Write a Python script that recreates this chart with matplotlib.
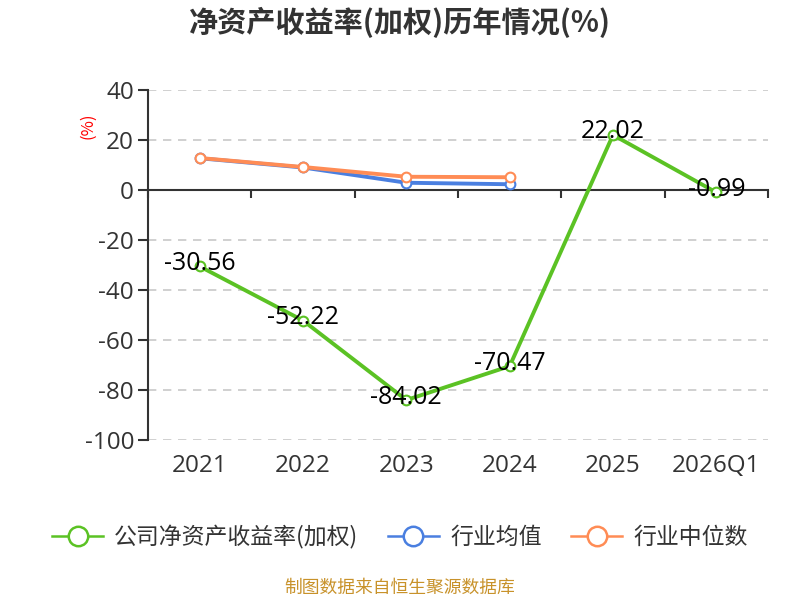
import matplotlib
matplotlib.use("Agg")
import matplotlib.pyplot as plt
import matplotlib.transforms as mtransforms
from matplotlib.lines import Line2D

plt.rcParams['font.family'] = ['Noto Sans CJK SC', 'DejaVu Sans']
num_font = ['Open Sans', 'Noto Sans CJK SC']

years = ["2021", "2022", "2023", "2024", "2025", "2026Q1"]
company = [-30.56, -52.22, -84.02, -70.47, 22.02, -0.99]
industry_avg = [12.7, 9.0, 2.9, 2.3]
industry_median = [12.8, 9.2, 5.3, 5.1]
yticks = [40, 20, 0, -20, -40, -60, -80, -100]
legend_names = ['公司净资产收益率(加权)', '行业均值', '行业中位数']

green = '#5bc224'
blue = '#4a7fe0'
orange = '#ff8c55'
dark = '#333333'

fig = plt.figure(figsize=(8, 6), dpi=100)
ax = fig.add_axes([0.185, 0.2667, 0.775, 0.5833])

x = list(range(len(years)))
ax.plot(x[:len(industry_avg)], industry_avg, color=blue, lw=2.8, marker='o',
        ms=7, mfc='white', mec=blue, mew=1.5, zorder=3)
ax.plot(x[:len(industry_median)], industry_median, color=orange, lw=2.8, marker='o',
        ms=7, mfc='white', mec=orange, mew=1.5, zorder=4)
ax.plot(x, company, color=green, lw=2.8, marker='o', ms=7, mfc='white',
        mec=green, mew=1.5, zorder=5)

for xi, v in zip(x, company):
    ax.text(xi, v + 1.2, f"{v:.2f}", ha='center', va='center', fontsize=18,
            family=num_font, color='black', zorder=6)

ax.set_xlim(-0.5, len(years) - 0.5)
ax.set_ylim(-100, 40)
ax.set_yticks(yticks)
ax.set_yticklabels([str(t) for t in yticks], fontsize=17.5, color=dark,
                   family=num_font)
for t in yticks:
    if t != 0:
        ax.axhline(t, color='#c8c8c8', lw=1.2, ls=(0, (5, 4)), zorder=1)

ax.spines['top'].set_visible(False)
ax.spines['right'].set_visible(False)
ax.spines['left'].set_color(dark)
ax.spines['left'].set_linewidth(1.5)
ax.spines['bottom'].set_position(('data', 0))
ax.spines['bottom'].set_color(dark)
ax.spines['bottom'].set_linewidth(1.5)
ax.tick_params(axis='y', length=7, width=1.5, color=dark, pad=3)
ax.set_xticks([i - 0.5 for i in range(len(years) + 1)])
ax.set_xticklabels([])
ax.tick_params(axis='x', length=6, width=1.5, color=dark, direction='out')

trans = mtransforms.blended_transform_factory(ax.transData, ax.transAxes)
for xi, lab in zip(x, years):
    ax.text(xi, -0.075, lab, transform=trans, ha='center', va='center',
            fontsize=17.5, color=dark, family=num_font)

fig.text(0.11, 0.79, '(%)', rotation=90, color='red', fontsize=12,
         ha='center', va='center')

fig.text(0.5, 0.962, '净资产收益率(加权)历年情况(%)', ha='center', va='center',
         fontsize=21, fontweight='bold', color=dark)

handles = [Line2D([], [], color=c, lw=1.8, marker='o', ms=14, mfc='white',
                  mec=c, mew=1.8) for c in (green, blue, orange)]
fig.legend(handles, legend_names, loc='center', bbox_to_anchor=(0.5, 0.105),
           ncol=3, frameon=False, prop={'size': 16.5}, handlelength=2.2,
           columnspacing=1.3, handletextpad=0.5, labelcolor=dark)

fig.text(0.5, 0.02, '制图数据来自恒生聚源数据库', ha='center', va='center',
         fontsize=12.8, color='#c8922a')

fig.savefig('out.png', dpi=100)
